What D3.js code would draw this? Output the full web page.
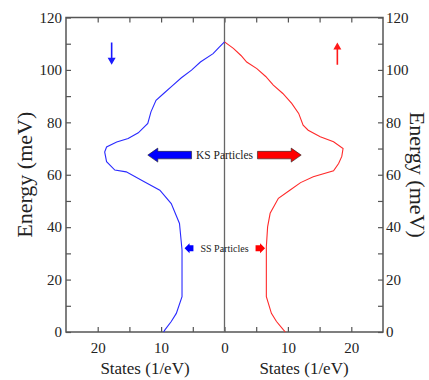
<!DOCTYPE html>
<html>
<head>
<meta charset="utf-8">
<script src="https://cdn.jsdelivr.net/npm/d3@7"></script>
<style>
  body { margin: 0; background: #fff; }
</style>
</head>
<body>
<div class="canvas"></div>
<script>
// density of states, spin up (red, right) and spin down (blue, left)
const energyUp = [0, 0.8, 4, 7.1, 13.5, 20, 32.5, 40.1, 45.3, 51, 54.1, 57, 59.2, 61.5, 64.3, 67, 70, 72.6, 74.5, 77, 78.9, 83.4, 87.2, 91, 94.2, 97.5, 100.5, 103, 105.5, 108.2, 110.7];
const dosUp =    [9.6, 9.3, 8.2, 7.4, 6.6, 6.6, 6.6, 6.8, 7.2, 8.5, 10.3, 12, 14, 17.2, 18, 18.5, 18.7, 17.2, 15.1, 13.2, 12.4, 11.7, 10.6, 9.2, 7.7, 6.5, 5.1, 3.5, 2.6, 1.4, 0];
const energyDown = [0, 0.8, 4, 7.1, 13.5, 20, 31.3, 41.4, 49, 54.1, 57.5, 61.1, 61.8, 65, 68.7, 70.6, 72.5, 73.8, 76, 79.6, 84, 88.4, 91, 94, 97, 99.9, 103, 106.2, 108.5, 110.7];
const dosDown =    [9.6, 9.4, 8.4, 7.6, 6.7, 6.7, 6.7, 7.1, 8.4, 10.2, 12.8, 15.5, 17.3, 18.6, 18.9, 18.6, 17, 15.2, 13.6, 12.1, 11.6, 10.8, 9.6, 8.2, 6.8, 5.2, 3.8, 1.8, 0.9, 0];

const xTicks = [-20, -15, -10, -5, 0, 5, 10, 15, 20];
const xLabels = [-20, -10, 0, 10, 20];
const yTicks = [0, 10, 20, 30, 40, 50, 60, 70, 80, 90, 100, 110, 120];
const yLabels = [0, 20, 40, 60, 80, 100, 120];

const serif = "'Liberation Serif'";
const W = 429, H = 380;
const svg = d3.select(".canvas").append("svg").attr("width", W).attr("height", H);

const x = d3.scaleLinear().domain([-25, 25]).range([66, 383]);
const y = d3.scaleLinear().domain([0, 120]).range([332, 17.5]);

//axes with inward ticks
const fmt = d => xLabels.includes(d) ? Math.abs(d) : "";
const fmtY = d => yLabels.includes(d) ? d : "";
const axisStyle = g => {
  g.attr("font-family", null);
  g.select(".domain").remove();
  g.selectAll("line").attr("stroke", "#555").attr("stroke-width", 1.2);
  g.selectAll("text").style("font-size", "15px").style("font-family", serif).attr("fill", "#222");
};
svg.append("g").attr("transform", `translate(0,${y(0)})`)
  .call(d3.axisBottom(x).tickValues(xTicks).tickFormat(fmt).tickSizeInner(-5).tickPadding(10))
  .call(axisStyle);
svg.append("g").attr("transform", `translate(0,${y(120)})`)
  .call(d3.axisTop(x).tickValues(xTicks).tickFormat("").tickSizeInner(-5))
  .call(axisStyle);
svg.append("g").attr("transform", `translate(${x(-25)},0)`)
  .call(d3.axisLeft(y).tickValues(yTicks).tickFormat(fmtY).tickSizeInner(-5).tickPadding(4))
  .call(axisStyle);
svg.append("g").attr("transform", `translate(${x(25)},0)`)
  .call(d3.axisRight(y).tickValues(yTicks).tickFormat(fmtY).tickSizeInner(-5).tickPadding(3))
  .call(axisStyle);

svg.append("rect")
  .attr("x", x(-25)).attr("y", y(120))
  .attr("width", x(25) - x(-25)).attr("height", y(0) - y(120))
  .attr("fill", "none").attr("stroke", "#555").attr("stroke-width", 1.5);

// zero line
svg.append("line")
  .attr("x1", x(0)).attr("x2", x(0)).attr("y1", y(0)).attr("y2", y(120))
  .attr("stroke", "#666").attr("stroke-width", 1.3);

// curves
const line = d3.line().x(d => x(d[0])).y(d => y(d[1]));
svg.append("path")
  .datum(dosUp.map((v, i) => [v, energyUp[i]]))
  .attr("d", line).attr("fill", "none").attr("stroke", "#ff2a2a").attr("stroke-width", 1.1);
svg.append("path")
  .datum(dosDown.map((v, i) => [-v, energyDown[i]]))
  .attr("d", line).attr("fill", "none").attr("stroke", "#2a2aff").attr("stroke-width", 1.1);

// block arrow from (x0,y0) to tip (x1,y1)
const blockArrow = (x0, y0, x1, y1, shaft, head, headLen, fill, stroke) => {
  const dx = x1 - x0, dy = y1 - y0, len = Math.hypot(dx, dy);
  const ux = dx / len, uy = dy / len, nx = -uy, ny = ux;
  const bx = x1 - ux * headLen, by = y1 - uy * headLen;
  const pts = [
    [x0 + nx * shaft / 2, y0 + ny * shaft / 2],
    [bx + nx * shaft / 2, by + ny * shaft / 2],
    [bx + nx * head / 2, by + ny * head / 2],
    [x1, y1],
    [bx - nx * head / 2, by - ny * head / 2],
    [bx - nx * shaft / 2, by - ny * shaft / 2],
    [x0 - nx * shaft / 2, y0 - ny * shaft / 2]
  ];
  svg.append("path").attr("d", "M" + pts.join("L") + "Z")
    .attr("fill", fill).attr("stroke", stroke).attr("stroke-width", stroke === "none" ? 0 : 0.6);
};

// spin arrows
blockArrow(x(-17.8), y(110.5), x(-17.8), y(102), 1.6, 8, 7, "#1a1aff", "none");
blockArrow(x(17.8), y(102), x(17.8), y(110.5), 1.6, 8, 7, "#ff1a1a", "none");

// KS particles
blockArrow(x(-5.2), y(67.5), x(-12.1), y(67.5), 7.5, 14, 10, "#0000ff", "#222");
blockArrow(x(5.2), y(67.5), x(12.1), y(67.5), 7.5, 14, 10, "#ff0000", "#222");
svg.append("text").attr("x", x(0)).attr("y", y(67.5) + 4)
  .attr("text-anchor", "middle").style("font-size", "11.5px").style("font-family", serif)
  .attr("fill", "#222").text("KS Particles");

// SS particles
blockArrow(x(-4.9), y(32), x(-6.3), y(32), 6, 10, 5, "#0000ff", "none");
blockArrow(x(4.9), y(32), x(6.4), y(32), 6, 10, 5, "#ff0000", "none");
svg.append("text").attr("x", x(0)).attr("y", y(32) + 3.5)
  .attr("text-anchor", "middle").style("font-size", "10px").style("font-family", serif)
  .attr("fill", "#222").text("SS Particles");

// axis titles
const title = sel => sel.style("font-family", serif).attr("fill", "#222").attr("text-anchor", "middle");
svg.append("text").attr("x", 145).attr("y", 374).call(title)
  .style("font-size", "17px").text("States (1/eV)");
svg.append("text").attr("x", 304).attr("y", 374).call(title)
  .style("font-size", "17px").text("States (1/eV)");
svg.append("text").attr("transform", `translate(32,${y(60)}) rotate(-90)`).call(title)
  .style("font-size", "22px").text("Energy (meV)");
svg.append("text").attr("transform", `translate(410,${y(60)}) rotate(90)`).call(title)
  .style("font-size", "22px").text("Energy (meV)");
</script>
</body>
</html>
